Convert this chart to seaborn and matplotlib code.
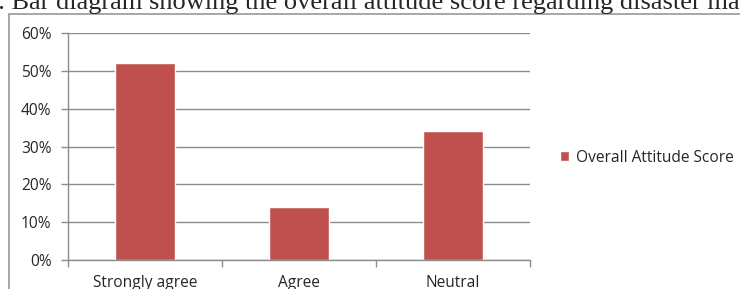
import matplotlib
matplotlib.use('Agg')
import matplotlib.pyplot as plt
import seaborn as sns
import pandas as pd
from matplotlib.patches import Rectangle
from matplotlib.ticker import FuncFormatter

# dados
categorias = ['Strongly agree', 'Agree', 'Neutral']
valores = [0.52, 0.14, 0.34]
serie = 'Overall Attitude Score'

df = pd.DataFrame({'Categoria': categorias, 'Valor': valores, 'Serie': serie})

sns.set_style('white')
plt.rcParams['font.family'] = ['Open Sans', 'DejaVu Sans']

fig = plt.figure(figsize=(7.4, 2.89), dpi=100)
ax = fig.add_axes([0.092, 0.10, 0.624, 0.786])

sns.barplot(data=df, x='Categoria', y='Valor', hue='Serie', palette=['#C0504D'],
            saturation=1, width=0.39, ax=ax, legend=True)

ax.set_ylim(0, 0.6)
ax.set_xlim(-0.5, 2.5)
ax.set_yticks([0, 0.1, 0.2, 0.3, 0.4, 0.5, 0.6])
ax.yaxis.set_major_formatter(FuncFormatter(lambda v, p: f'{v*100:.0f}%'))
ax.grid(axis='y', color='#8c8c8c', linewidth=1)
ax.set_axisbelow(True)
ax.set_xlabel('')
ax.set_ylabel('')

for s in ['top', 'right']:
    ax.spines[s].set_visible(False)
for s in ['left', 'bottom']:
    ax.spines[s].set_color('#8c8c8c')
    ax.spines[s].set_linewidth(1)

ax.tick_params(axis='y', length=5, width=1, color='#8c8c8c', direction='out',
               labelsize=11.2, labelcolor='#262626', pad=7, left=True)
ax.set_xticks([-0.5, 0.5, 1.5, 2.5], minor=True)
ax.tick_params(axis='x', which='minor', length=5, width=1, color='#8c8c8c', direction='out', bottom=True)
ax.tick_params(axis='x', which='major', length=0, labelsize=11.2, labelcolor='#262626', pad=11)

leg = ax.legend(loc='center left', bbox_to_anchor=(1.035, 0.45), frameon=False,
                fontsize=11.2, handlelength=0.6, handleheight=0.6, handletextpad=0.4)

# moldura do gráfico
fig.patches.append(Rectangle((8.5/740, -0.1), 1.0, (289 - 13.5)/289 + 0.1,
                             transform=fig.transFigure, fill=False,
                             edgecolor='#a0a0a0', linewidth=1.3))

fig.text(-0.02, 0.99, '2. Bar diagram showing the overall attitude score regarding disaster management',
         family=['Liberation Serif', 'DejaVu Serif'], fontsize=19.0, va='center', ha='left')

plt.savefig('out.png', dpi=100)
